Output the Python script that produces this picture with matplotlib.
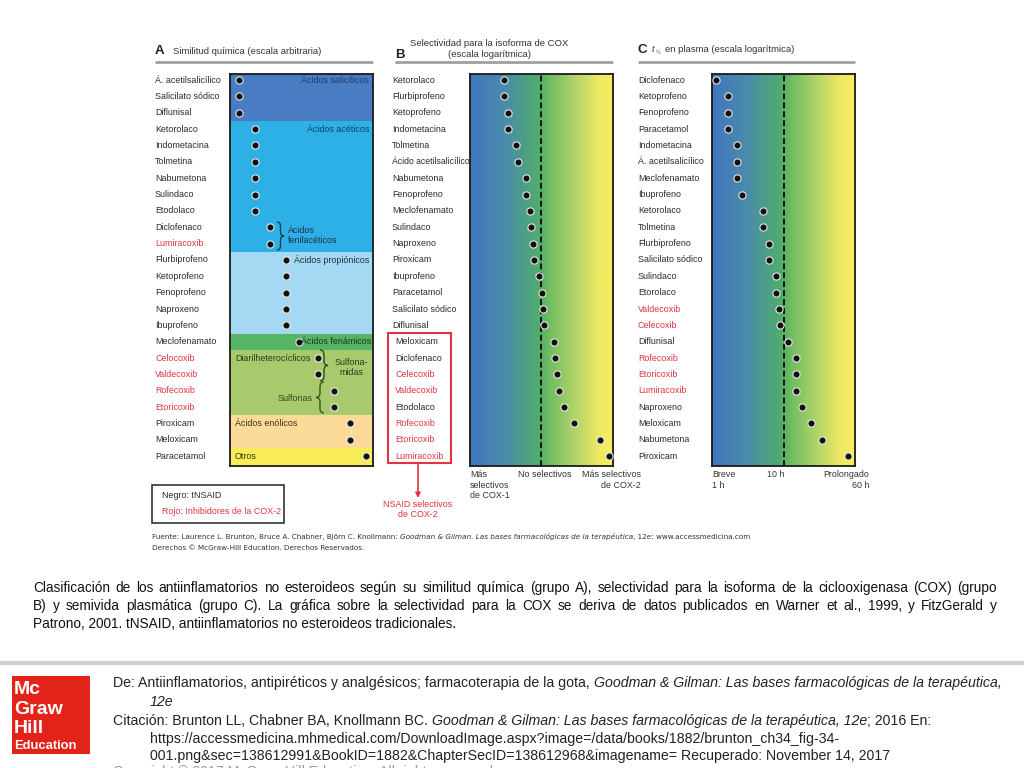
import matplotlib
matplotlib.use('Agg')
import matplotlib.pyplot as plt
import numpy as np
from matplotlib.path import Path
from matplotlib.patches import PathPatch, Rectangle
from matplotlib.colors import LinearSegmentedColormap
from matplotlib.transforms import blended_transform_factory as blend

# ---------------- DATA ----------------
A_drugs = ["Á. acetilsalicílico", "Salicilato sódico", "Diflunisal", "Ketorolaco",
           "Indometacina", "Tolmetina", "Nabumetona", "Sulindaco", "Etodolaco",
           "Diclofenaco", "Lumiracoxib", "Flurbiprofeno", "Ketoprofeno", "Fenoprofeno",
           "Naproxeno", "Ibuprofeno", "Meclofenamato", "Celocoxib", "Valdecoxib",
           "Rofecoxib", "Etoricoxib", "Piroxicam", "Meloxicam", "Paracetamol"]
A_score = [1, 1, 1, 2, 2, 2, 2, 2, 2, 3, 3, 4, 4, 4, 4, 4, 4.8, 6, 6, 7, 7, 8, 8, 9]
A_groups = ["Ácidos salicílicos", "Ácidos acéticos", "Ácidos propiónicos",
            "Ácidos fenámicos", "Diarilheterocíclicos", "Ácidos enólicos", "Otros"]
A_group_start = [0, 3, 11, 16, 17, 21, 23]
A_group_colors = ["#4a7cc4", "#2db0e6", "#a5d8f3", "#55b565", "#a9c96d", "#fcda98", "#f8ed58"]

B_drugs = ["Ketorolaco", "Flurbiprofeno", "Ketoprofeno", "Indometacina", "Tolmetina",
           "Ácido acetilsalicílico", "Nabumetona", "Fenoprofeno", "Meclofenamato",
           "Sulindaco", "Naproxeno", "Piroxicam", "Ibuprofeno", "Paracetamol",
           "Salicilato sódico", "Diflunisal", "Meloxicam", "Diclofenaco", "Celecoxib",
           "Valdecoxib", "Etodolaco", "Rofecoxib", "Etoricoxib", "Lumiracoxib"]
B_ratio = [0.05, 0.05, 0.07, 0.07, 0.13, 0.155, 0.30, 0.30, 0.41, 0.44, 0.52, 0.57,
           0.85, 1.08, 1.18, 1.28, 2.9, 3.1, 3.7, 4.3, 6.5, 14.5, 119, 248]

C_drugs = ["Diclofenaco", "Ketoprofeno", "Fenoprofeno", "Paracetamol", "Indometacina",
           "Á. acetilsalicílico", "Meclofenamato", "Ibuprofeno", "Ketorolaco", "Tolmetina",
           "Flurbiprofeno", "Salicilato sódico", "Sulindaco", "Etorolaco", "Valdecoxib",
           "Celecoxib", "Diflunisal", "Rofecoxib", "Etoricoxib", "Lumiracoxib",
           "Naproxeno", "Meloxicam", "Nabumetona", "Piroxicam"]
C_hours = [1.14, 1.67, 1.67, 1.67, 2.2, 2.2, 2.2, 2.6, 5.1, 5.1, 6.2, 6.2, 7.7, 7.7,
           8.5, 8.8, 11.4, 14.7, 14.7, 14.7, 17.8, 23.7, 33.7, 77]

RED_DRUGS = {"Lumiracoxib", "Celocoxib", "Celecoxib", "Valdecoxib", "Rofecoxib", "Etoricoxib"}

# ---------------- STYLE ----------------
W, H = 1024, 768
SANS = ['Liberation Sans', 'DejaVu Sans']
RED = '#e0343f'
TXT = '#2a2a2a'
LFS = 6.4

fig = plt.figure(figsize=(10.24, 7.68), dpi=100)
fig.patch.set_facecolor('white')
ov = fig.add_axes([0, 0, 1, 1])
ov.set_xlim(0, W); ov.set_ylim(H, 0); ov.axis('off')
ov.set_zorder(10); ov.patch.set_alpha(0)


def panel(x0, y0, x1, y1):
    return fig.add_axes([x0 / W, 1 - y1 / H, (x1 - x0) / W, (y1 - y0) / H])


def style_box(ax):
    ax.set_xticks([]); ax.set_yticks([])
    ax.minorticks_off()
    for s in ax.spines.values():
        s.set_color('#1a1a1a'); s.set_linewidth(1.3)


def dots(ax, x, y):
    ax.plot(x, y, 'o', color='#111111', ms=5.2, mec='#e8e8e8', mew=0.8, zorder=5)


def brace(x, y0, y1, w, color, lw=1.0):
    ym = (y0 + y1) / 2
    h = w / 2
    r = min(abs(h) * 1.2, (y1 - y0) / 4)
    verts = [(x, y0), (x + h, y0), (x + h, y0 + r), (x + h, ym - r),
             (x + h, ym), (x + w, ym), (x + h, ym), (x + h, ym + r),
             (x + h, y1 - r), (x + h, y1), (x, y1)]
    codes = [Path.MOVETO, Path.CURVE3, Path.CURVE3, Path.LINETO,
             Path.CURVE3, Path.CURVE3, Path.CURVE3, Path.CURVE3,
             Path.LINETO, Path.CURVE3, Path.CURVE3]
    ov.add_patch(PathPatch(Path(verts, codes), fc='none', ec=color, lw=lw))


YLIM = (23.6, -0.37)
rows = np.arange(24)

grad_cm = LinearSegmentedColormap.from_list('g', [
    (0.0, '#4276c0'), (0.25, '#4a8ca9'), (0.47, '#4fab70'), (0.5, '#55b066'),
    (0.56, '#72bd62'), (0.75, '#b7d66a'), (0.9, '#eee862'), (1.0, '#f8ee62')])

# ---------------- PANEL A ----------------
axA = panel(230, 74, 373, 466)
bounds = [-1.0] + [s - 0.5 for s in A_group_start[1:]] + [25.0]
for i, c in enumerate(A_group_colors):
    axA.axhspan(bounds[i], bounds[i + 1], color=c, lw=0, zorder=0)
dots(axA, A_score, rows)
axA.set_xlim(0.45, 9.46); axA.set_ylim(*YLIM)
style_box(axA)
trA = blend(ov.transData, axA.transData)
for i, name in enumerate(A_drugs):
    ov.text(155, i, name, transform=trA, ha='left', va='center', fontsize=LFS,
            family=SANS, color=RED if name in RED_DRUGS else TXT)

grp_txt = [(A_groups[0], 369, 0, 'right', '#1e3b70'),
           (A_groups[1], 369, 3, 'right', '#123e66'),
           (A_groups[2], 369, 11, 'right', '#1e2e3a'),
           (A_groups[3], 371, 16, 'right', '#173a1a'),
           (A_groups[4], 235, 17, 'left', '#2a3a1a'),
           (A_groups[5], 235, 21, 'left', '#3a3020'),
           (A_groups[6], 235, 23, 'left', '#3a3a10')]
for t, x, r, ha, c in grp_txt:
    ov.text(x, r, t, transform=trA, ha=ha, va='center', fontsize=LFS, family=SANS, color=c)
ov.text(288, 9.5, "Ácidos\nfenilacéticos", transform=trA, ha='left', va='center',
        fontsize=LFS, family=SANS, color='#1e3040', linespacing=1.15)
ov.text(351, 17.6, "Sulfona-\nmidas", transform=trA, ha='center', va='center',
        fontsize=LFS, family=SANS, color='#2a3a1a', linespacing=1.15)
ov.text(313, 19.5, "Sulfonas", transform=trA, ha='right', va='center',
        fontsize=LFS, family=SANS, color='#2a4a1a')
brace(277, 222, 250, 7, '#1a3a55', 1.0)
brace(320, 350, 381, 8, '#2a4a1a', 1.0)
brace(324, 382, 413, -8, '#2a5a1a', 1.0)

# header A
ov.text(155, 51, "A", fontsize=9.5, fontweight='bold', family=SANS, va='center', color='#222')
ov.text(173, 51, "Similitud química (escala arbitraria)", fontsize=6.8, family=SANS,
        va='center', color='#333')
ov.plot([155, 373], [62, 62], color='#a0a0a0', lw=2, solid_capstyle='butt')

# legend box
ov.add_patch(Rectangle((152, 485), 132, 38, fc='none', ec='#333333', lw=1.2))
ov.text(162, 496, "Negro: tNSAID", fontsize=LFS, family=SANS, va='center', color=TXT)
ov.text(162, 511, "Rojo: Inhibidores de la COX-2", fontsize=LFS, family=SANS,
        va='center', color=RED)

# ---------------- PANEL B ----------------
axB = panel(470, 74, 613, 466)
grad = np.linspace(0, 1, 256).reshape(1, -1)
axB.imshow(grad, extent=(0, 1, 0, 1), transform=axB.transAxes, aspect='auto',
           cmap=grad_cm, zorder=0)
axB.set_xscale('log')
axB.axvline(1, color='#111111', ls=(0, (3, 1.6)), lw=1.4, zorder=3)
dots(axB, B_ratio, rows)
axB.set_xlim(10 ** -2.5, 10 ** 2.535); axB.set_ylim(*YLIM)
style_box(axB)
trB = blend(ov.transData, axB.transData)
for i, name in enumerate(B_drugs):
    ov.text(392 if i < 16 else 395, i, name, transform=trB, ha='left', va='center',
            fontsize=LFS if i != 5 else 6.2, family=SANS,
            color=RED if name in RED_DRUGS else TXT)
ov.text(395, 55, "B", fontsize=9.5, fontweight='bold', family=SANS, va='center', color='#222')
ov.text(489, 49, "Selectividad para la isoforma de COX\n(escala logarítmica)", fontsize=6.8,
        family=SANS, va='center', ha='center', color='#333', linespacing=1.2)
ov.plot([395, 613], [62, 62], color='#a0a0a0', lw=2, solid_capstyle='butt')
ov.add_patch(Rectangle((388, 333), 63, 130, fc='none', ec=RED, lw=1.5))
ov.annotate("", xy=(418, 498), xytext=(418, 463),
            arrowprops=dict(arrowstyle='-|>', color=RED, lw=1.2, mutation_scale=7,
                            shrinkA=0, shrinkB=0))
ov.text(418, 500, "NSAID selectivos\nde COX-2", fontsize=LFS, family=SANS, va='top',
        ha='center', color=RED, linespacing=1.2)
ov.text(470, 470, "Más\nselectivos\nde COX-1", fontsize=LFS, family=SANS, va='top',
        ha='left', color='#333', linespacing=1.25)
ov.text(545, 470, "No selectivos", fontsize=LFS, family=SANS, va='top', ha='center', color='#333')
ov.text(611, 470, "Más selectivos\nde COX-2", fontsize=LFS, family=SANS, va='top',
        ha='center', color='#333', linespacing=1.25, multialignment='right')

# ---------------- PANEL C ----------------
axC = panel(712, 74, 855, 466)
axC.imshow(grad, extent=(0, 1, 0, 1), transform=axC.transAxes, aspect='auto',
           cmap=grad_cm, zorder=0)
axC.set_xscale('log')
axC.axvline(10, color='#111111', ls=(0, (3, 1.6)), lw=1.4, zorder=3)
dots(axC, C_hours, rows)
axC.set_xlim(1, 10 ** 1.986); axC.set_ylim(*YLIM)
style_box(axC)
trC = blend(ov.transData, axC.transData)
for i, name in enumerate(C_drugs):
    ov.text(638, i, name, transform=trC, ha='left', va='center',
            fontsize=LFS, family=SANS, color=RED if name in RED_DRUGS else TXT)
ov.text(638, 50, "C", fontsize=9.5, fontweight='bold', family=SANS, va='center', color='#222')
ov.text(652, 50, "t", fontsize=6.5, style='italic', family=SANS, va='center', color='#333')
ov.text(656, 53, "½", fontsize=4, family=SANS, va='center', color='#333')
ov.text(665, 50, "en plasma (escala logarítmica)", fontsize=6.8, family=SANS,
        va='center', color='#333')
ov.plot([638, 855], [62, 62], color='#a0a0a0', lw=2, solid_capstyle='butt')
ov.text(712, 470, "Breve\n1 h", fontsize=LFS, family=SANS, va='top', ha='left',
        color='#333', linespacing=1.25)
ov.text(776, 470, "10 h", fontsize=LFS, family=SANS, va='top', ha='center', color='#333')
ov.text(869, 470, "Prolongado\n60 h", fontsize=LFS, family=SANS, va='top', ha='right',
        color='#333', linespacing=1.25, multialignment='right')

# ---------------- TEXT HELPERS ----------------
renderer = fig.canvas.get_renderer()


def twidth(s, **kw):
    t = ov.text(0, 0, s, **kw)
    bb = t.get_window_extent(renderer)
    t.remove()
    return bb.width


def runs_width(pieces, fontsize, family):
    return sum(twidth(s.replace(' ', '\u00a0'), fontsize=fontsize, family=family,
                      style='italic' if it else 'normal') for s, it in pieces)


def runs(x, y, pieces, fontsize, family, color='#222'):
    for s, italic in pieces:
        kw = dict(fontsize=fontsize, family=family, style='italic' if italic else 'normal')
        ov.text(x, y, s, va='center', ha='left', color=color, **kw)
        x += twidth(s.replace(' ', '\u00a0'), **kw)


def justify(x0, x1, y, line, fontsize, family, color='#111'):
    words = line.split()
    kw = dict(fontsize=fontsize, family=family)
    ws = [twidth(w, **kw) for w in words]
    gap = (x1 - x0 - sum(ws)) / (len(words) - 1)
    x = x0
    for w, wd in zip(words, ws):
        ov.text(x, y, w, va='center', ha='left', color=color, **kw)
        x += wd + gap


# source line
runs(152, 537, [("Fuente: Laurence L. Brunton, Bruce A. Chabner, Björn C. Knollmann: ", False),
                ("Goodman & Gilman. Las bases farmacológicas de la terapéutica", True),
                (", 12e: www.accessmedicina.com", False)], 5.2, ['DejaVu Sans'], '#333')
runs(152, 548, [("Derechos © McGraw-Hill Education. Derechos Reservados.", False)],
     5.2, ['DejaVu Sans'], '#333')

# caption
cap1 = ("Clasificación de los antiinflamatorios no esteroideos según su similitud química "
        "(grupo A), selectividad para la isoforma de la ciclooxigenasa (COX) (grupo")
cap2 = ("B) y semivida plasmática (grupo C). La gráfica sobre la selectividad para la COX se "
        "deriva de datos publicados en Warner et al., 1999, y FitzGerald y")
cap3 = "Patrono, 2001. tNSAID, antiinflamatorios no esteroideos tradicionales."
justify(33, 997, 588, cap1, 9.8, SANS)
justify(33, 997, 606, cap2, 9.8, SANS)
ov.text(33, 624, cap3, fontsize=9.8, family=SANS, va='center', color='#111')

# separator
ov.plot([0, W], [663, 663], color='#cfcfcf', lw=3, solid_capstyle='butt')

# logo
ov.add_patch(Rectangle((12, 676), 78, 78, fc='#e2231a', ec='none'))
for s, yy in [("Mc", 690), ("Graw", 709.5), ("Hill", 728.5)]:
    ov.text(14, yy, s, fontsize=14, fontweight='bold', family=SANS, color='white', va='center')
ov.text(14, 746, "Education", fontsize=9.4, fontweight='bold', family=SANS, color='white',
        va='center')

# bottom citation
line1 = [("De: Antiinflamatorios, antipiréticos y analgésicos; farmacoterapia de la gota, ", False),
         ("Goodman & Gilman: Las bases farmacológicas de la terapéutica,", True)]
BFS = 10.0 * 886.0 / runs_width(line1, 10.0, SANS)
runs(113, 683, line1, BFS, SANS)
runs(150, 702, [("12e", True)], BFS, SANS)
runs(113, 721, [("Citación: Brunton LL, Chabner BA, Knollmann BC. ", False),
                ("Goodman & Gilman: Las bases farmacológicas de la terapéutica, 12e", True),
                ("; 2016 En:", False)], BFS, SANS)
runs(150, 739, [("https://accessmedicina.mhmedical.com/DownloadImage.aspx?image=/data/books/1882/brunton_ch34_fig-34-", False)], BFS, SANS)
runs(150, 756, [("001.png&sec=138612991&BookID=1882&ChapterSecID=138612968&imagename= Recuperado: November 14, 2017", False)], BFS, SANS)
runs(113, 772, [("Copyright © 2017 McGraw-Hill Education. All rights reserved.", False)], BFS, SANS, '#999')

fig.savefig('out.png', dpi=100, facecolor='white')
